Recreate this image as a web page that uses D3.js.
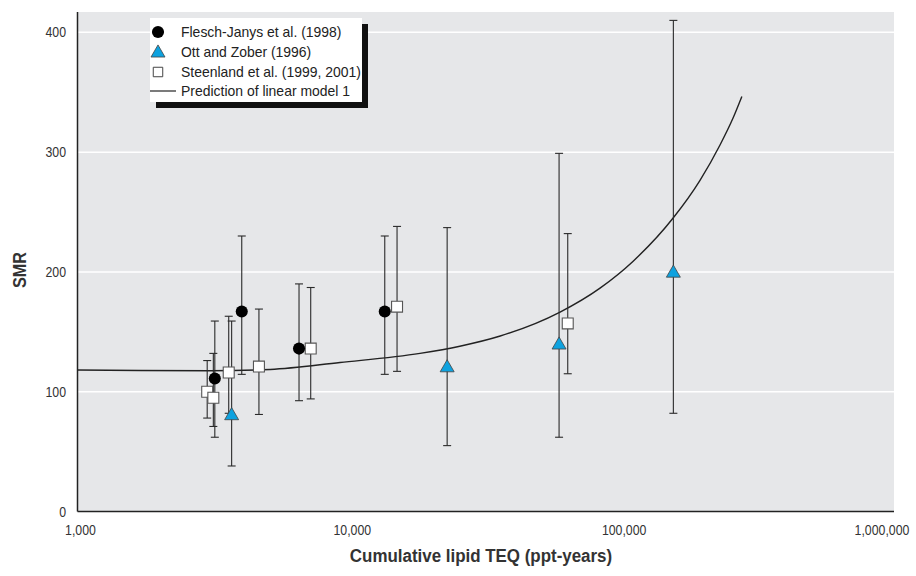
<!DOCTYPE html>
<html>
<head>
<meta charset="utf-8">
<script src="https://cdn.jsdelivr.net/npm/d3@7"></script>
<style>
  html, body { margin: 0; padding: 0; background: #ffffff; }
  svg { display: block; }
  text { font-family: "Liberation Sans", Arial, sans-serif; }
</style>
</head>
<body>
<svg id="chart" width="916" height="576"></svg>
<script>
// ---------- data ----------
const xTicks = [1000, 10000, 100000, 1000000];
const xTickLabels = ["1,000", "10,000", "100,000", "1,000,000"];
const yTicks = [0, 100, 200, 300, 400];
const yGrid = [100, 200, 300, 400];

// Flesch-Janys et al. (1998)
const fjTeq = [3200, 4020, 6530, 13500];
const fjSmr = [111, 167, 136, 167];
const fjLo  = [62, 114.5, 92.5, 114.5];
const fjHi  = [159, 230, 190, 230];

// Ott and Zober (1996)
const ozTeq = [3690, 22900, 59100, 155600];
const ozSmr = [80, 120, 139, 199];
const ozLo  = [38, 55, 62, 82];
const ozHi  = [159, 237, 299, 410];

// Steenland et al. (1999, 2001)
const stTeq = [3000, 3160, 3600, 4650, 7210, 14980, 63600];
const stSmr = [100, 95, 116, 121, 136, 171, 157];
const stLo  = [78, 71, 82, 81, 94, 117, 115];
const stHi  = [126, 132, 163, 169, 187, 238, 232];

// Prediction of linear model 1
const curveTeq = [1000, 1700, 3070, 5110, 9240, 18200, 25500, 35900, 59600, 83600, 110700, 155300, 195000, 231000, 258000, 278000];
const curveSmr = [118.1, 117.7, 117.5, 118.6, 124.4, 132.0, 138.0, 146.5, 166.5, 186.5, 209.0, 245.0, 276.5, 306.0, 328.5, 346.5];

const legendLabels = ["Flesch-Janys et al. (1998)", "Ott and Zober (1996)", "Steenland et al. (1999, 2001)", "Prediction of linear model 1"];

// ---------- layout ----------
const svg = d3.select("#chart");
const L = 77.5, R = 894, T = 12, B = 511.5;

const x = d3.scaleLog().domain([1000, 1000000]).range([L, 893]);
const y = d3.scaleLinear().domain([0, 417]).range([B, T]);

const triColor = "#0ea2df";

// plot background
svg.append("rect").attr("x", L).attr("y", T).attr("width", R - L).attr("height", B - T).attr("fill", "#e6e7e9");

// grid lines
svg.append("g").selectAll("line").data(yGrid).join("line")
  .attr("x1", L).attr("x2", R)
  .attr("y1", d => y(d)).attr("y2", d => y(d))
  .attr("stroke", "#ffffff").attr("stroke-width", 1.5);

// curve
const line = d3.line().x((d, i) => x(curveTeq[i])).y(d => y(d)).curve(d3.curveMonotoneX);
svg.append("path").datum(curveSmr).attr("d", line)
  .attr("fill", "none").attr("stroke", "#222").attr("stroke-width", 1.4);

// error bars
function errorBars(teq, lo, hi) {
  const g = svg.append("g").attr("stroke", "#2a2a2a").attr("stroke-width", 1.1);
  const idx = d3.range(teq.length);
  g.selectAll("line.v").data(idx).join("line").attr("class", "v")
    .attr("x1", i => x(teq[i])).attr("x2", i => x(teq[i]))
    .attr("y1", i => y(lo[i])).attr("y2", i => y(hi[i]));
  g.selectAll("line.lo").data(idx).join("line").attr("class", "lo")
    .attr("x1", i => x(teq[i]) - 4).attr("x2", i => x(teq[i]) + 4)
    .attr("y1", i => y(lo[i])).attr("y2", i => y(lo[i]));
  g.selectAll("line.hi").data(idx).join("line").attr("class", "hi")
    .attr("x1", i => x(teq[i]) - 4).attr("x2", i => x(teq[i]) + 4)
    .attr("y1", i => y(hi[i])).attr("y2", i => y(hi[i]));
}
errorBars(stTeq, stLo, stHi);
errorBars(fjTeq, fjLo, fjHi);
errorBars(ozTeq, ozLo, ozHi);

const sqSym = d3.symbol().type(d3.symbolSquare).size(120);
const ciSym = d3.symbol().type(d3.symbolCircle).size(115);
const trSym = d3.symbol().type(d3.symbolTriangle).size(85);

// markers
svg.append("g").selectAll("path").data(d3.range(stTeq.length)).join("path")
  .attr("d", sqSym).attr("transform", i => `translate(${x(stTeq[i])},${y(stSmr[i])})`)
  .attr("fill", "#ffffff").attr("stroke", "#555").attr("stroke-width", 1.1);
svg.append("g").selectAll("path").data(d3.range(fjTeq.length)).join("path")
  .attr("d", ciSym).attr("transform", i => `translate(${x(fjTeq[i])},${y(fjSmr[i])})`)
  .attr("fill", "#000000");
svg.append("g").selectAll("path").data(d3.range(ozTeq.length)).join("path")
  .attr("d", trSym).attr("transform", i => `translate(${x(ozTeq[i])},${y(ozSmr[i])})`)
  .attr("fill", triColor).attr("stroke", "#444").attr("stroke-width", 0.8);

// axes lines
svg.append("line").attr("x1", L).attr("x2", L).attr("y1", T).attr("y2", B)
  .attr("stroke", "#222").attr("stroke-width", 1.5);
svg.append("line").attr("x1", L).attr("x2", R).attr("y1", B).attr("y2", B)
  .attr("stroke", "#222").attr("stroke-width", 1.5);

// condense helper: squeeze text horizontally like a condensed face
function condense(sel, f) {
  sel.each(function () {
    const w = this.getComputedTextLength();
    d3.select(this).attr("textLength", w * f).attr("lengthAdjust", "spacingAndGlyphs");
  });
}

// y tick labels
svg.append("g").selectAll("text").data(yTicks).join("text")
  .attr("x", 66).attr("y", d => y(d)).attr("dy", "0.36em")
  .attr("text-anchor", "end").attr("font-size", 14).attr("fill", "#333")
  .text(d => d).call(condense, 0.88);

// x tick labels
svg.append("g").selectAll("text").data(xTicks).join("text")
  .attr("x", (d, i) => i === xTicks.length - 1 ? 882 : x(d) + 3)
  .attr("y", 535)
  .attr("text-anchor", "middle")
  .attr("font-size", 14).attr("fill", "#333")
  .text((d, i) => xTickLabels[i]).call(condense, 0.88);

// axis titles
svg.append("text")
  .attr("x", 481).attr("y", 562).attr("text-anchor", "middle")
  .attr("font-size", 18).attr("font-weight", "bold").attr("fill", "#333")
  .text("Cumulative lipid TEQ (ppt-years)").call(condense, 0.94);
svg.append("text")
  .attr("transform", "translate(26,270) rotate(-90)").attr("text-anchor", "middle")
  .attr("font-size", 18).attr("font-weight", "bold").attr("fill", "#333")
  .text("SMR").call(condense, 0.9);

// legend
const lg = svg.append("g");
lg.append("rect").attr("x", 156).attr("y", 24).attr("width", 212).attr("height", 84).attr("fill", "#111");
lg.append("rect").attr("x", 150).attr("y", 18).attr("width", 212).attr("height", 84).attr("fill", "#ffffff");
const rowY = [32, 52, 72, 91];
lg.append("path").attr("d", ciSym).attr("transform", `translate(158,${rowY[0]})`).attr("fill", "#000");
lg.append("path").attr("d", trSym).attr("transform", `translate(158,${rowY[1] + 1})`)
  .attr("fill", triColor).attr("stroke", "#444").attr("stroke-width", 0.8);
lg.append("path").attr("d", d3.symbol().type(d3.symbolSquare).size(90))
  .attr("transform", `translate(158,${rowY[2]})`).attr("fill", "#fff").attr("stroke", "#444").attr("stroke-width", 1);
lg.append("line").attr("x1", 150).attr("x2", 176).attr("y1", rowY[3]).attr("y2", rowY[3])
  .attr("stroke", "#222").attr("stroke-width", 1.2);
lg.append("g").selectAll("text").data(legendLabels).join("text")
  .attr("x", 181).attr("y", (d, i) => rowY[i]).attr("dy", "0.36em")
  .attr("font-size", 15).attr("fill", "#222")
  .text(d => d).call(condense, 0.93);
</script>
</body>
</html>
